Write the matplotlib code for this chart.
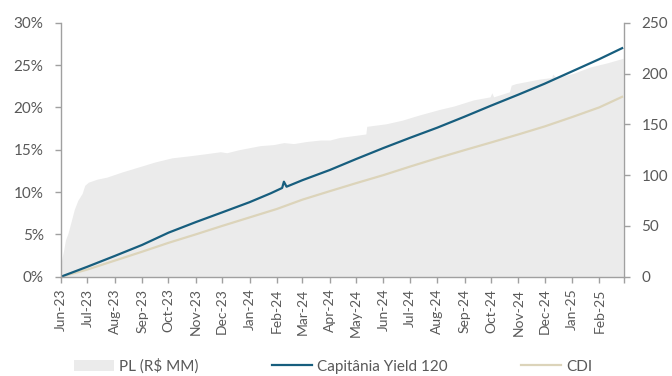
import matplotlib
matplotlib.use("Agg")
import matplotlib.pyplot as plt
from matplotlib.patches import Patch
from matplotlib.lines import Line2D
import pandas as pd

plt.rcParams['font.family'] = ['Lato', 'DejaVu Sans']

# Fund net assets (PL, R$ MM) — right axis
pl_dates = ['2023-06-01', '2023-06-02', '2023-06-04', '2023-06-06', '2023-06-09',
            '2023-06-13', '2023-06-16', '2023-06-20', '2023-06-25', '2023-06-28',
            '2023-07-02', '2023-07-12', '2023-07-23', '2023-08-09', '2023-08-28',
            '2023-09-16', '2023-10-05', '2023-10-25', '2023-11-12', '2023-11-29',
            '2023-12-06', '2023-12-20', '2024-01-13', '2024-01-28', '2024-02-09',
            '2024-02-20', '2024-03-05', '2024-03-21', '2024-04-01', '2024-04-12',
            '2024-04-25', '2024-05-08', '2024-05-12', '2024-05-13', '2024-06-04',
            '2024-06-22', '2024-07-11', '2024-08-03', '2024-08-20', '2024-09-11',
            '2024-09-30', '2024-10-02', '2024-10-04', '2024-10-22', '2024-10-24',
            '2024-10-29', '2024-11-10', '2024-11-25', '2024-12-09', '2024-12-10',
            '2024-12-14', '2025-01-02', '2025-01-22', '2025-02-10', '2025-02-28']
pl_values = [12, 18, 26, 36, 43,
             56, 66, 75, 82, 90,
             93, 96, 98, 103, 108,
             113, 117, 119, 121, 123,
             122, 125, 129, 130, 132,
             131, 133, 134.5, 134.5, 137,
             138.5, 140, 140.5, 148, 150.5,
             154, 159, 164.5, 168, 174,
             177, 181, 177, 182, 188.5,
             190, 192, 194.5, 196, 199.5,
             196, 200, 206.5, 210.5, 215]

# Cumulative returns (%) — left axis
cap_dates = ['2023-06-01', '2023-06-15', '2023-07-01', '2023-08-01', '2023-09-01',
             '2023-10-01', '2023-11-01', '2023-12-01', '2024-01-01', '2024-01-25',
             '2024-02-07', '2024-02-09', '2024-02-12', '2024-03-01', '2024-04-01',
             '2024-05-01', '2024-06-01', '2024-07-01', '2024-08-01', '2024-09-01',
             '2024-10-01', '2024-11-01', '2024-12-01', '2025-01-01', '2025-02-01',
             '2025-02-28']
cap_values = [0.0, 0.55, 1.18, 2.45, 3.75,
              5.2, 6.45, 7.6, 8.8, 9.85,
              10.48, 11.22, 10.63, 11.4, 12.6,
              13.9, 15.2, 16.4, 17.6, 18.9,
              20.2, 21.5, 22.8, 24.25, 25.7,
              27.05]

cdi_dates = ['2023-06-01', '2023-07-01', '2023-08-01', '2023-09-01', '2023-10-01',
             '2023-11-01', '2023-12-01', '2024-01-01', '2024-02-01', '2024-03-01',
             '2024-04-01', '2024-05-01', '2024-06-01', '2024-07-01', '2024-08-01',
             '2024-09-01', '2024-10-01', '2024-11-01', '2024-12-01', '2025-01-01',
             '2025-02-01', '2025-02-28']
cdi_values = [0.0, 0.85, 1.9, 2.95, 4.0,
              5.0, 6.0, 7.0, 8.0, 9.1,
              10.1, 11.05, 12.0, 13.0, 14.0,
              14.95, 15.85, 16.8, 17.75, 18.85,
              20.0, 21.3]

month_ticks = pd.date_range('2023-06-01', '2025-03-01', freq='MS')
month_labels = [d.strftime('%b-%y') for d in month_ticks[:-1]] + ['']

pct_ticks = [0, 5, 10, 15, 20, 25, 30]
pl_ticks = [0, 50, 100, 150, 200, 250]

C_AREA = '#EBEBEB'
C_CAP = '#175E7E'
C_CDI = '#DCD4BA'
C_TEXT = '#595959'
C_AXIS = '#A0A0A0'

fig = plt.figure(figsize=(6.72, 3.76), dpi=100)
ax = fig.add_axes([61 / 672, 1 - 276.7 / 376, (624 - 61) / 672, (276.7 - 22.7) / 376])
ax2 = ax.twinx()

ax2.fill_between(pd.to_datetime(pl_dates), 0, pl_values, color=C_AREA, lw=0)
ax.plot(pd.to_datetime(cdi_dates), cdi_values, color=C_CDI, lw=1.6, solid_capstyle='butt')
ax.plot(pd.to_datetime(cap_dates), cap_values, color=C_CAP, lw=1.6, solid_capstyle='butt')

# keep the return lines above the net-asset area
ax.set_zorder(ax2.get_zorder() + 1)
ax.patch.set_visible(False)

ax.set_xlim(pd.Timestamp('2023-06-01'), pd.Timestamp('2025-03-01'))
ax.set_ylim(0, 30)
ax2.set_ylim(0, 250)

ax.set_yticks(pct_ticks)
ax.set_yticklabels([f'{v}%' for v in pct_ticks])
ax2.set_yticks(pl_ticks)
ax2.set_yticklabels([str(v) for v in pl_ticks])
ax.set_xticks(month_ticks)
ax.set_xticklabels(month_labels, rotation=90)

for a in (ax, ax2):
    a.spines['top'].set_visible(False)
    for side in ('left', 'right', 'bottom'):
        a.spines[side].set_color(C_AXIS)
        a.spines[side].set_linewidth(1.0)
ax.spines['right'].set_visible(False)
ax2.spines['left'].set_visible(False)
ax2.spines['bottom'].set_visible(False)

ax.tick_params(axis='y', length=4.5, width=1.0, color=C_AXIS, labelcolor=C_TEXT,
               labelsize=11, pad=8)
ax2.tick_params(axis='y', length=4.5, width=1.0, color=C_AXIS, labelcolor=C_TEXT,
                labelsize=11, pad=8)
ax.tick_params(axis='x', length=4.5, width=1.0, color=C_AXIS, labelcolor=C_TEXT,
               labelsize=10, pad=4)

handles = [Patch(facecolor=C_AREA, edgecolor='none', label='PL (R$ MM)'),
           Line2D([0], [0], color=C_CAP, lw=1.6, label='Capitânia Yield 120'),
           Line2D([0], [0], color=C_CDI, lw=1.6, label='CDI')]
fig.legend(handles=handles, loc='center', bbox_to_anchor=(333 / 672, 10 / 376),
           ncol=3, frameon=False, fontsize=11, handlelength=2.6,
           handletextpad=0.35, columnspacing=4.8, labelcolor=C_TEXT,
           borderpad=0.1)

fig.savefig('out.png', dpi=100)
